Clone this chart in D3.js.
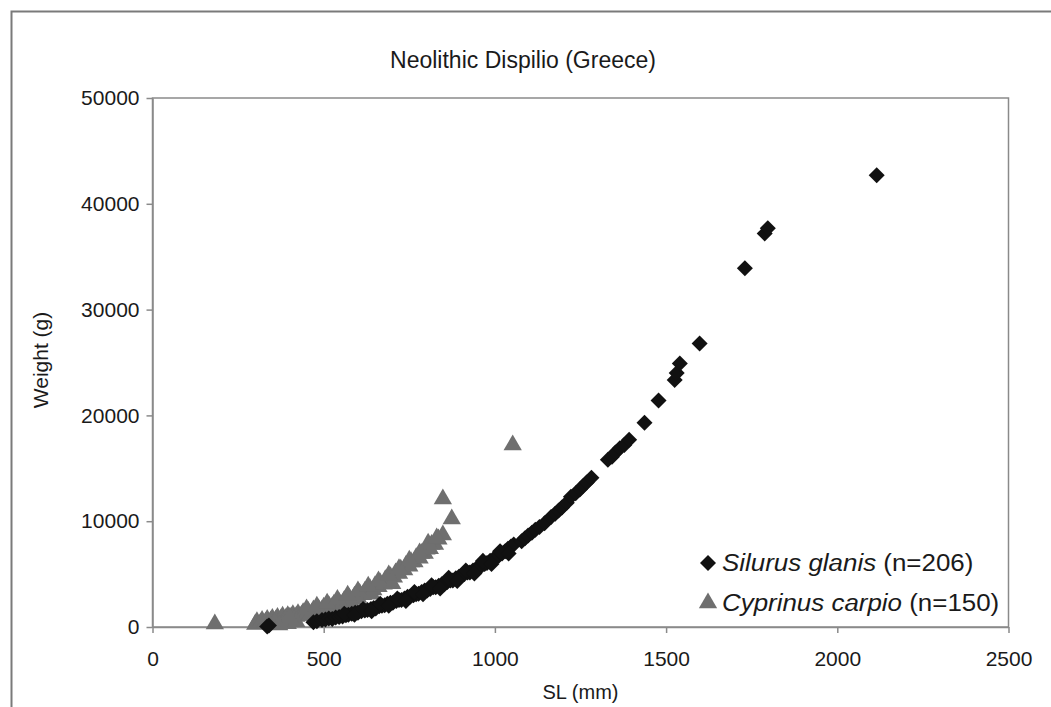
<!DOCTYPE html>
<html>
<head>
<meta charset="utf-8">
<script src="https://cdn.jsdelivr.net/npm/d3@7"></script>
<style>
  body { margin: 0; background: #fff; }
  text { font-family: "Liberation Sans", Arial, sans-serif; fill: #1a1a1a; }
</style>
</head>
<body>
<script>
// values: [SL mm, weight g]
var silurus = [
    [335, 50], [340, 150], [470, 450], [480, 550], [495, 650],
    [505, 700], [515, 800], [525, 760], [535, 900], [545, 950], [555, 1000], [565, 1100], [572, 1150],
    [582, 1250], [592, 1350], [600, 1350], [610, 1500], [620, 1550], [628, 1600], [638, 1700], [646, 1800],
    [652, 1750], [662, 1950], [670, 2000], [678, 2050], [686, 2200], [695, 2300], [702, 2300], [712, 2450],
    [720, 2550], [727, 2550], [736, 2700], [745, 2850], [752, 2850], [762, 3000], [770, 3100], [777, 3150],
    [786, 3300], [795, 3450], [802, 3450], [811, 3600], [820, 3750], [827, 3750], [836, 3900], [845, 4050],
    [852, 4050], [861, 4250], [870, 4400], [877, 4400], [886, 4600], [895, 4750], [902, 4850], [911, 5000],
    [920, 5150], [927, 5150], [936, 5350], [945, 5500], [952, 5600], [961, 5800], [970, 5950], [977, 6050],
    [986, 6250], [995, 6400], [1003, 6550], [1012, 6750], [1021, 6950], [1030, 7150], [1038, 7400], [1047, 7600],
    [1055, 7800], [1078, 8100], [1088, 8400], [1097, 8650], [1108, 8900], [1118, 9200], [1130, 9450],
    [1145, 9800], [1164, 10400], [1176, 10700], [1186, 11000], [1196, 11300], [1210, 11750],
    [1222, 12300], [1236, 12650], [1248, 13000], [1258, 13350], [1268, 13650], [1282, 14100],
    [1330, 15800], [1342, 16100], [1352, 16500], [1365, 16900], [1378, 17200], [1392, 17700],
    [1437, 19300], [1478, 21400], [1525, 23350], [1531, 24000], [1540, 24900], [1598, 26800],
    [1730, 33900], [1788, 37200], [1797, 37700], [2115, 42700],
    [560, 1250], [590, 1150], [615, 1700], [640, 1500], [665, 2200], [690, 2000], [715, 2700],
    [740, 2450], [765, 3300], [790, 3100], [815, 3950], [840, 3650], [865, 4650], [890, 4350],
    [915, 5350], [940, 5050], [965, 6250], [990, 5950], [1015, 7150], [1040, 6950]
];

var cyprinus = [
    [182, 280], [300, 250], [305, 500], [315, 350], [320, 600], [330, 450], [335, 700], [345, 550],
    [350, 800], [360, 650], [365, 900], [375, 750], [380, 1000], [390, 850], [395, 1050], [400, 600],
    [405, 950], [410, 1150], [420, 1000], [425, 1250], [435, 1100], [440, 1350], [450, 1200], [455, 1450],
    [465, 1300], [470, 1600], [480, 1450], [485, 1700], [495, 1600], [500, 1850], [510, 1750], [515, 2000],
    [525, 1900], [530, 2150], [540, 2050], [545, 2300], [555, 2200], [560, 2500], [570, 2400], [575, 2700],
    [585, 2600], [590, 2900], [600, 2800], [605, 3150], [615, 3050], [620, 3350], [630, 3250], [635, 3600],
    [645, 3500], [650, 3900], [660, 3800], [665, 4150], [675, 4050], [680, 4450], [690, 4400], [695, 4750],
    [705, 4700], [710, 5100], [720, 5050], [725, 5450], [735, 5400], [740, 5800], [750, 5750], [755, 6150],
    [765, 6150], [770, 6550], [780, 6500], [785, 6950], [795, 6950], [800, 7350], [810, 7400], [815, 7800],
    [825, 7800], [835, 8300], [848, 8700], [848, 12100], [874, 10200], [1052, 17200],
    [355, 350], [370, 200], [395, 300], [420, 500], [400, 900], [460, 1100], [520, 1600], [580, 2300],
    [640, 3100], [700, 4100], [450, 1700], [480, 1950], [510, 2250], [540, 2600], [570, 3000],
    [600, 3400], [630, 3850], [660, 4350], [690, 4900], [720, 5500], [750, 6300], [780, 7000],
    [805, 7900], [830, 8400]
];

var xTicks = [0, 500, 1000, 1500, 2000, 2500];
var yTicks = [0, 10000, 20000, 30000, 40000, 50000];

var w = 1051;
var h = 707;
var plotL = 152.5, plotR = 1008.5, plotT = 98, plotB = 627;
var axisGrey = "#8a8a8a";

var svg = d3.select("body").append("svg")
    .attr("width", w)
    .attr("height", h);

// outer frame (runs off the right and bottom edges)
svg.append("rect")
    .attr("x", 11.5).attr("y", 11.5)
    .attr("width", 1100).attr("height", 800)
    .attr("fill", "none")
    .attr("stroke", "#7a7a7a")
    .attr("stroke-width", 2);

var x = d3.scaleLinear().domain([0, 2500]).range([plotL, plotR]);
var y = d3.scaleLinear().domain([0, 50000]).range([plotB, plotT]);

// plot box
svg.append("rect")
    .attr("x", plotL).attr("y", plotT)
    .attr("width", plotR - plotL).attr("height", plotB - plotT)
    .attr("fill", "none")
    .attr("stroke", axisGrey)
    .attr("stroke-width", 1.5);

var yAxis = svg.append("g")
    .attr("transform", "translate(" + plotL + ",0)")
    .call(d3.axisLeft(y).tickValues(yTicks).tickSize(6).tickSizeOuter(0).tickPadding(7).tickFormat(d3.format("d")));

var xAxis = svg.append("g")
    .attr("transform", "translate(0," + plotB + ")")
    .call(d3.axisBottom(x).tickValues(xTicks).tickSize(6).tickSizeOuter(0).tickPadding(18).tickFormat(d3.format("d")));

[yAxis, xAxis].forEach(function(g) {
    g.selectAll("path, line").attr("stroke", axisGrey).attr("stroke-width", 1.5);
    g.selectAll("text")
        .style("font-family", "Liberation Sans, Arial, sans-serif")
        .style("font-size", "21px")
        .attr("fill", "#1a1a1a");
});

var diamond = d3.symbol().type(d3.symbolSquare).size(128);
var triangle = d3.symbol().type(d3.symbolTriangle).size(145);

svg.append("g").selectAll("path")
    .data(cyprinus)
    .enter()
    .append("path")
    .attr("d", triangle)
    .attr("transform", function(d) {
        return "translate(" + x(d[0]) + "," + y(d[1]) + ")";
    })
    .attr("fill", "#6f6f6f");

svg.append("g").selectAll("path")
    .data(silurus)
    .enter()
    .append("path")
    .attr("d", diamond)
    .attr("transform", function(d) {
        return "translate(" + x(d[0]) + "," + y(d[1]) + ") rotate(45)";
    })
    .attr("fill", "#111");

// title and axis titles
svg.append("text")
    .attr("x", 523).attr("y", 68)
    .attr("text-anchor", "middle")
    .style("font-size", "23px")
    .text("Neolithic Dispilio (Greece)");

svg.append("text")
    .attr("x", (plotL + plotR) / 2).attr("y", 699)
    .attr("text-anchor", "middle")
    .style("font-size", "20px")
    .text("SL (mm)");

svg.append("text")
    .attr("transform", "translate(48,360) rotate(-90)")
    .attr("text-anchor", "middle")
    .style("font-size", "21px")
    .text("Weight (g)");

// legend
var legend = svg.append("g");
legend.append("path")
    .attr("d", diamond)
    .attr("transform", "translate(708,563) rotate(45)")
    .attr("fill", "#111");
legend.append("path")
    .attr("d", triangle)
    .attr("transform", "translate(708,603)")
    .attr("fill", "#6f6f6f");

// legend text is a bit wider than the font alone gives
var legendText = legend.append("g").attr("transform", "translate(722,0) scale(1.08,1)");

var t1 = legendText.append("text").attr("x", 0).attr("y", 571).style("font-size", "24px");
t1.append("tspan").style("font-style", "italic").text("Silurus glanis");
t1.append("tspan").text(" (n=206)");

var t2 = legendText.append("text").attr("x", 0).attr("y", 611).style("font-size", "24px");
t2.append("tspan").style("font-style", "italic").text("Cyprinus carpio");
t2.append("tspan").text(" (n=150)");
</script>
</body>
</html>
